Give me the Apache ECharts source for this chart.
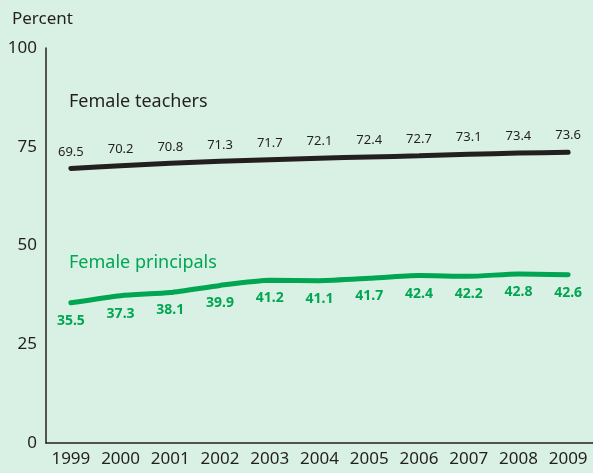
<!DOCTYPE html>
<html>
<head>
<meta charset="utf-8">
<script src="https://cdn.jsdelivr.net/npm/echarts@6/dist/echarts.min.js"></script>
<style>
  html, body { margin: 0; padding: 0; background: #d9f1e4; }
  #main { width: 593px; height: 473px; }
</style>
</head>
<body>
<div id="main"></div>
<script>
const years = ['1999', '2000', '2001', '2002', '2003', '2004', '2005', '2006', '2007', '2008', '2009'];
const teachers = [69.5, 70.2, 70.8, 71.3, 71.7, 72.1, 72.4, 72.7, 73.1, 73.4, 73.6];
const principals = [35.5, 37.3, 38.1, 39.9, 41.2, 41.1, 41.7, 42.4, 42.2, 42.8, 42.6];
const yTicks = [0, 25, 50, 75, 100];

const chart = echarts.init(document.getElementById('main'));
const font = '"Noto Sans", sans-serif';

chart.setOption({
  backgroundColor: '#d9f1e4',
  animation: false,
  textStyle: { fontFamily: font },
  title: {
    text: 'Percent',
    left: 7, top: 6,
    textStyle: { fontSize: 17, fontWeight: 'normal', color: '#231f20', fontFamily: font }
  },
  graphic: [
    { type: 'text', left: 69, top: 93,
      style: { text: 'Female teachers', fontSize: 18, fill: '#231f20', fontFamily: font } },
    { type: 'text', left: 69, top: 254,
      style: { text: 'Female principals', fontSize: 18, fill: '#00a651', fontFamily: font } }
  ],
  grid: { left: 46, right: -3, top: 48, bottom: 30 },
  xAxis: {
    type: 'category',
    data: years,
    boundaryGap: true,
    axisLine: { lineStyle: { color: '#231f20', width: 1.5 } },
    axisTick: { show: false },
    axisLabel: { color: '#231f20', fontSize: 17, margin: 8, fontFamily: font, interval: 0 }
  },
  yAxis: {
    type: 'value',
    min: yTicks[0], max: yTicks[yTicks.length - 1], interval: 25,
    axisLine: { show: true, lineStyle: { color: '#231f20', width: 1.5 } },
    axisTick: { show: false },
    splitLine: { show: false },
    axisLabel: { color: '#231f20', fontSize: 17, margin: 9, fontFamily: font }
  },
  series: [
    {
      name: 'Female teachers',
      type: 'line',
      data: teachers,
      symbol: 'circle',
      symbolSize: 0,
      showSymbol: true,
      smooth: 0.2,
      lineStyle: { color: '#231f20', width: 5, cap: 'round' },
      itemStyle: { color: '#231f20' },
      label: {
        show: true, position: 'top', distance: 10,
        color: '#231f20', fontSize: 13, fontFamily: font
      }
    },
    {
      name: 'Female principals',
      type: 'line',
      data: principals,
      symbol: 'circle',
      symbolSize: 0,
      showSymbol: true,
      smooth: 0.2,
      lineStyle: { color: '#00a651', width: 5, cap: 'round' },
      itemStyle: { color: '#00a651' },
      label: {
        show: true, position: 'bottom', distance: 11,
        color: '#00a651', fontSize: 14, fontWeight: 'bold', fontFamily: font
      }
    }
  ]
});
</script>
</body>
</html>
